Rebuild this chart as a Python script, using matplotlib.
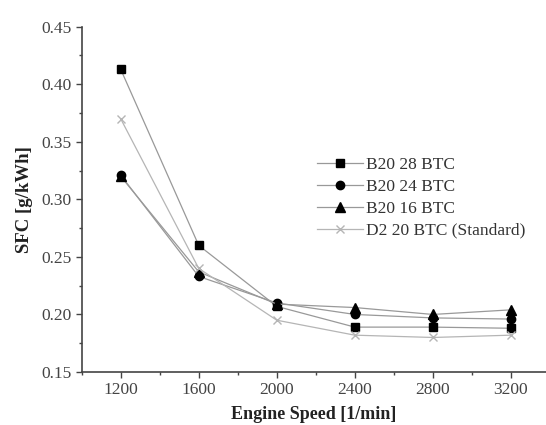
import matplotlib
matplotlib.use("Agg")
import matplotlib.pyplot as plt
from matplotlib.ticker import MultipleLocator

plt.rcParams['font.family'] = ['Liberation Serif', 'DejaVu Serif']

speed = [1200, 1600, 2000, 2400, 2800, 3200]
b20_28 = [0.413, 0.260, 0.207, 0.189, 0.189, 0.188]
b20_24 = [0.321, 0.233, 0.210, 0.200, 0.197, 0.196]
b20_16 = [0.320, 0.237, 0.209, 0.206, 0.200, 0.204]
d2_20 = [0.370, 0.240, 0.195, 0.182, 0.180, 0.182]
labels = ["B20 28 BTC", "B20 24 BTC", "B20 16 BTC", "D2 20 BTC (Standard)"]

fig = plt.figure(figsize=(5.46, 4.25), dpi=100)
ax = fig.add_axes([0.1496, 0.1247, 0.8504, 0.8125])

ax.plot(speed, b20_28, color='#999999', lw=0.9, marker='s', ms=6, mfc='black', mec='black', label=labels[0])
ax.plot(speed, b20_24, color='#999999', lw=0.9, marker='o', ms=6, mfc='black', mec='black', label=labels[1])
ax.plot(speed, b20_16, color='#999999', lw=0.9, marker='^', ms=6.5, mfc='black', mec='black', label=labels[2])
ax.plot(speed, d2_20, color='#b5b5b5', lw=0.9, marker='x', ms=6, mfc='#b5b5b5', mec='#b5b5b5', label=labels[3])

ax.set_xlim(1000, 3380)
ax.set_ylim(0.15, 0.45)
ax.set_xticks(speed)
ax.xaxis.set_minor_locator(MultipleLocator(200))
ax.yaxis.set_major_locator(MultipleLocator(0.05))
ax.yaxis.set_minor_locator(MultipleLocator(0.025))
ax.set_yticklabels([f"{v:.2f}" for v in ax.get_yticks()])

for s in ['top', 'right']:
    ax.spines[s].set_visible(False)
for s in ['left', 'bottom']:
    ax.spines[s].set_color('#444444')
    ax.spines[s].set_linewidth(1.2)

ax.tick_params(axis='both', which='major', direction='out', length=4, width=1, colors='#444444',
               labelsize=12.5, labelcolor='#444444', pad=3)
ax.tick_params(axis='both', which='minor', direction='out', length=2.5, width=1, colors='#444444')

ax.set_xlabel("Engine Speed [1/min]", fontsize=13, fontweight='bold', labelpad=6, color='#222222')
ax.set_ylabel("SFC [g/kWh]", fontsize=13.5, fontweight='bold', labelpad=6, color='#222222')

ax.legend(loc='upper left', bbox_to_anchor=(0.507, 0.623), frameon=False, fontsize=12.5,
          handlelength=2.65, handletextpad=0.15, labelspacing=0.33, borderaxespad=0, borderpad=0,
          labelcolor='#333333')

fig.savefig("out.png", dpi=100)
